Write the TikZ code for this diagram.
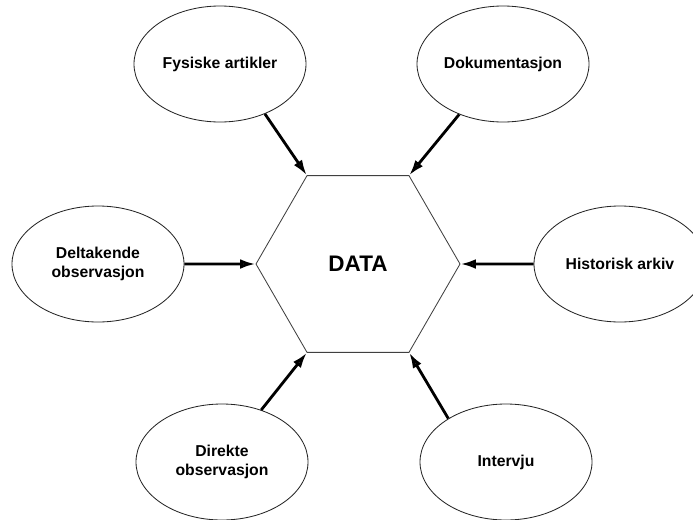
\documentclass[tikz,border=0pt]{standalone}
\usepackage{fontspec}
\setmainfont{Liberation Sans}
\usetikzlibrary{shapes.geometric,arrows.meta}

\begin{document}
\begin{tikzpicture}[scale=1,
    every node/.style={ellipse, draw=black!85, line width=0.6pt, minimum width=4.3cm, minimum height=2.9cm,
      inner sep=0pt, align=center, font=\fontsize{11.2}{13.5}\selectfont\bfseries},
    pil/.style={line width=2pt, -{Latex[length=11pt,width=7pt,fill=black!60]}}]
    \useasboundingbox (0,0) rectangle (17.325,12.975);
    \clip (0,0) rectangle (17.325,12.975);

    \node[regular polygon, regular polygon sides=6, minimum size=5.1cm, draw=black!75,
      font=\fontsize{16}{19}\selectfont\bfseries] (data) at (8.95,6.375) {DATA};

    \node (fys) at (5.5,11.375)   {Fysiske artikler};
    \node (dok) at (12.575,11.375) {Dokumentasjon};
    \node (del) at (2.45,6.375)   {Deltakende\\observasjon};
    \node (his) at (15.5,6.375)   {Historisk arkiv};
    \node (dir) at (5.55,1.425)   {Direkte\\observasjon};
    \node (int) at (12.65,1.425)  {Intervju};

    \draw[pil] (fys.-48) -- (data.120);
    \draw[pil] (dok.-131) -- (data.60);
    \draw[pil] (del.east) -- (data.180);
    \draw[pil] (his.west) -- (data.0);
    \draw[pil] (dir.53) -- (data.240);
    \draw[pil] (int.143) -- (data.300);
  \end{tikzpicture}
\end{document}
